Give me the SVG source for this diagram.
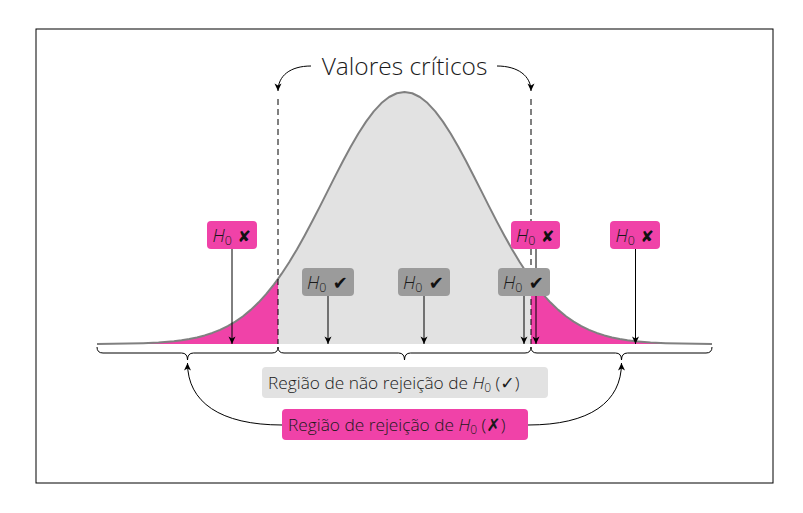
<svg xmlns="http://www.w3.org/2000/svg" width="803" height="513" viewBox="0 0 803 513">
<style>
.lbl{font-family:"Open Sans","DejaVu Sans",sans-serif;font-weight:300;fill:#1a1a1a}
.sym{font-family:"DejaVu Sans",sans-serif;font-weight:bold;fill:#111}
.con{fill:none;stroke:#000;stroke-width:1}
.pink{fill:#f042a8}
.gbox{fill:#9b9b9b}
</style>
<defs>
<marker id="ah" viewBox="-8 -4 9 8" refX="0" refY="0" markerWidth="9" markerHeight="8" markerUnits="userSpaceOnUse" orient="auto">
<path d="M0,0 L-7.5,-3.5 L-5.5,0 L-7.5,3.5 Z" fill="#000"/>
</marker>
</defs>
<rect x="36" y="29" width="737" height="454" fill="#fff" stroke="#000" stroke-width="1"/>
<g id="curve">
<path id="body" fill="#e2e2e2" d="M97,344 L97,343.91 112.375,343.82 127.75,343.61 143.125,343.22 158.5,342.49 173.875,341.2 181.56,340.24 189.25,339 196.94,337.42 204.625,335.42 212.31,332.93 220,329.86 227.69,326.11 235.375,321.59 243.06,316.22 250.75,309.89 258.44,302.55 266.125,294.13 273.81,284.59 278.04,278.88 281.5,273.93 289.19,262.19 296.875,249.42 304.56,235.75 312.25,221.34 319.94,206.39 327.625,191.15 335.31,175.92 343,161.01 350.69,146.76 358.375,133.51 366.06,121.61 373.75,111.37 381.44,103.09 389.125,96.99 396.81,93.26 404.5,92 412.19,93.26 419.875,96.99 427.56,103.09 435.25,111.37 442.94,121.61 450.625,133.51 458.31,146.76 466,161.01 473.69,175.92 481.375,191.15 489.06,206.39 496.75,221.34 504.44,235.75 512.125,249.42 519.81,262.19 527.5,273.93 530.96,278.88 535.19,284.59 542.875,294.13 550.56,302.55 558.25,309.89 565.94,316.22 573.625,321.59 581.31,326.11 589,329.86 596.69,332.93 604.375,335.42 612.06,337.42 619.75,339 627.44,340.24 635.125,341.2 650.5,342.49 665.875,343.22 681.25,343.61 696.625,343.82 712,343.91 L712,344 Z"/>
<path class="pink" d="M97,344 L97,343.91 112.375,343.82 127.75,343.61 143.125,343.22 158.5,342.49 173.875,341.2 181.56,340.24 189.25,339 196.94,337.42 204.625,335.42 212.31,332.93 220,329.86 227.69,326.11 235.375,321.59 243.06,316.22 250.75,309.89 258.44,302.55 266.125,294.13 273.81,284.59 278.04,278.88 L278.04,344 Z"/>
<path class="pink" d="M530.96,344 L530.96,278.88 535.19,284.59 542.875,294.13 550.56,302.55 558.25,309.89 565.94,316.22 573.625,321.59 581.31,326.11 589,329.86 596.69,332.93 604.375,335.42 612.06,337.42 619.75,339 627.44,340.24 635.125,341.2 650.5,342.49 665.875,343.22 681.25,343.61 696.625,343.82 712,343.91 L712,344 Z"/>
<path fill="none" stroke="#808080" stroke-width="2" stroke-linejoin="round" d="M97,343.91 112.375,343.82 127.75,343.61 143.125,343.22 158.5,342.49 173.875,341.2 181.56,340.24 189.25,339 196.94,337.42 204.625,335.42 212.31,332.93 220,329.86 227.69,326.11 235.375,321.59 243.06,316.22 250.75,309.89 258.44,302.55 266.125,294.13 273.81,284.59 278.04,278.88 281.5,273.93 289.19,262.19 296.875,249.42 304.56,235.75 312.25,221.34 319.94,206.39 327.625,191.15 335.31,175.92 343,161.01 350.69,146.76 358.375,133.51 366.06,121.61 373.75,111.37 381.44,103.09 389.125,96.99 396.81,93.26 404.5,92 412.19,93.26 419.875,96.99 427.56,103.09 435.25,111.37 442.94,121.61 450.625,133.51 458.31,146.76 466,161.01 473.69,175.92 481.375,191.15 489.06,206.39 496.75,221.34 504.44,235.75 512.125,249.42 519.81,262.19 527.5,273.93 530.96,278.88 535.19,284.59 542.875,294.13 550.56,302.55 558.25,309.89 565.94,316.22 573.625,321.59 581.31,326.11 589,329.86 596.69,332.93 604.375,335.42 612.06,337.42 619.75,339 627.44,340.24 635.125,341.2 650.5,342.49 665.875,343.22 681.25,343.61 696.625,343.82 712,343.91"/>
</g>
<g id="connectors">
<line class="con" x1="278" y1="99" x2="278" y2="344" stroke-dasharray="6,4"/>
<line class="con" x1="531" y1="99" x2="531" y2="344" stroke-dasharray="6,4"/>
<path class="con" d="M311,66 C290,66 278,76 278,91" marker-end="url(#ah)"/>
<path class="con" d="M497,66 C518,66 531,76 531,91" marker-end="url(#ah)"/>
<line class="con" x1="232" y1="249" x2="232" y2="344" marker-end="url(#ah)"/>
<line class="con" x1="536" y1="249" x2="536" y2="344" marker-end="url(#ah)"/>
<line class="con" x1="635.5" y1="249" x2="635.5" y2="344" marker-end="url(#ah)"/>
<line class="con" x1="328" y1="296" x2="328" y2="344" marker-end="url(#ah)"/>
<line class="con" x1="424" y1="296" x2="424" y2="344" marker-end="url(#ah)"/>
<line class="con" x1="524" y1="296" x2="524" y2="344" marker-end="url(#ah)"/>
<path class="con" d="M97,347 Q97,353 103,353 L181.5,353 Q187.5,353 187.5,360 Q187.5,353 193.5,353 L272,353 Q278,353 278,347"/>
<path class="con" d="M278,347 Q278,353 284,353 L398.5,353 Q404.5,353 404.5,360 Q404.5,353 410.5,353 L525,353 Q531,353 531,347"/>
<path class="con" d="M531,347 Q531,353 537,353 L615.5,353 Q621.5,353 621.5,360 Q621.5,353 627.5,353 L706,353 Q712,353 712,347"/>
<path class="con" d="M282,425 C220,425 187.5,402 187.5,363" marker-end="url(#ah)"/>
<path class="con" d="M528,425 C590,425 621.5,402 621.5,363" marker-end="url(#ah)"/>
</g>
<g id="title">
<text class="lbl" x="404.5" y="75" font-size="24.5" text-anchor="middle">Valores críticos</text>
</g>
<g id="rej1">
<rect class="pink" x="207" y="221" width="50" height="28" rx="4"/>
<text class="lbl" x="212.5" y="241.5" font-size="18"><tspan font-style="italic">H</tspan><tspan font-size="12.5" dy="3">0</tspan><tspan class="sym" dy="-3" font-size="16"> ✘</tspan></text>
</g>
<g id="rej2">
<rect class="pink" x="511" y="221" width="49" height="28" rx="4"/>
<text class="lbl" x="516" y="241.5" font-size="18"><tspan font-style="italic">H</tspan><tspan font-size="12.5" dy="3">0</tspan><tspan class="sym" dy="-3" font-size="16"> ✘</tspan></text>
</g>
<g id="rej3">
<rect class="pink" x="610" y="221" width="50" height="28" rx="4"/>
<text class="lbl" x="615.5" y="241.5" font-size="18"><tspan font-style="italic">H</tspan><tspan font-size="12.5" dy="3">0</tspan><tspan class="sym" dy="-3" font-size="16"> ✘</tspan></text>
</g>
<g id="acc1">
<rect class="gbox" x="302" y="268" width="52" height="28" rx="4"/>
<text class="lbl" x="307" y="288.5" font-size="18"><tspan font-style="italic">H</tspan><tspan font-size="12.5" dy="3">0</tspan><tspan class="sym" dy="-3" font-size="18"> ✔</tspan></text>
</g>
<g id="acc2">
<rect class="gbox" x="398" y="268" width="52" height="28" rx="4"/>
<text class="lbl" x="403" y="288.5" font-size="18"><tspan font-style="italic">H</tspan><tspan font-size="12.5" dy="3">0</tspan><tspan class="sym" dy="-3" font-size="18"> ✔</tspan></text>
</g>
<g id="acc3">
<rect class="gbox" x="498" y="268" width="52" height="28" rx="4"/>
<text class="lbl" x="503" y="288.5" font-size="18"><tspan font-style="italic">H</tspan><tspan font-size="12.5" dy="3">0</tspan><tspan class="sym" dy="-3" font-size="18"> ✔</tspan></text>
</g>
<g id="nonrej">
<rect x="262" y="367" width="286" height="31" rx="4" fill="#e2e2e2"/>
<text class="lbl" x="268" y="388.5" font-size="17.3">Região de não rejeição de <tspan font-style="italic">H</tspan><tspan font-size="12" dy="3">0</tspan><tspan dy="-3"> (</tspan><tspan font-family="DejaVu Sans, sans-serif" font-weight="bold" font-style="italic">✓</tspan>)</text>
</g>
<g id="rejregion">
<rect class="pink" x="282" y="409" width="246" height="31" rx="4"/>
<text class="lbl" x="288" y="430.5" font-size="17.3">Região de rejeição de <tspan font-style="italic">H</tspan><tspan font-size="12" dy="3">0</tspan><tspan dy="-3"> (</tspan><tspan font-family="DejaVu Sans, sans-serif" font-weight="bold">✗</tspan>)</text>
</g>
</svg>
